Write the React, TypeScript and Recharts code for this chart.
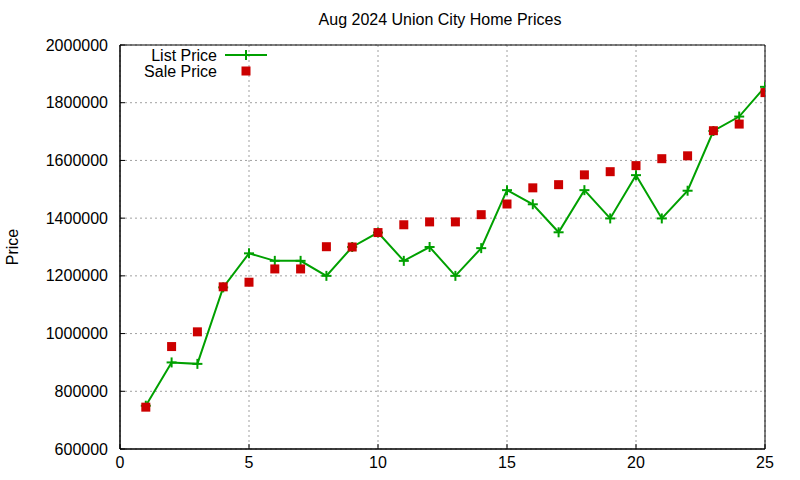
import React from 'react';
import { ComposedChart, Line, XAxis, YAxis, CartesianGrid, ReferenceArea } from 'recharts';

const months = [1, 2, 3, 4, 5, 6, 7, 8, 9, 10, 11, 12, 13, 14, 15, 16, 17, 18, 19, 20, 21, 22, 23, 24, 25];
const listPrice = [750000, 900000, 895000, 1160000, 1278000, 1252000, 1252000, 1200000, 1300000, 1350000, 1252000, 1300000, 1200000, 1296000, 1497000, 1448000, 1351000, 1497000, 1399000, 1549000, 1399000, 1495000, 1702000, 1752000, 1855000];
const salePrice = [745000, 955000, 1006000, 1162000, 1178000, 1224000, 1224000, 1301000, 1300000, 1350000, 1377000, 1387000, 1387000, 1412000, 1449000, 1505000, 1516000, 1550000, 1561000, 1582000, 1606000, 1616000, 1703000, 1726000, 1835000];
const xTicks = [0, 5, 10, 15, 20, 25];
const yTicks = [600000, 800000, 1000000, 1200000, 1400000, 1600000, 1800000, 2000000];

const data = months.map((m, i) => ({ m, list: listPrice[i], sale: salePrice[i] }));

const GREEN = '#00a000';
const RED = '#cc0000';
const FONT = '"Liberation Sans", Arial, sans-serif';
const TM = 10;
const TL = 5;

const PlusDot = (props: any) => {
  const { cx, cy } = props;
  if (cx == null || cy == null) return null;
  return (
    <g>
      <line x1={cx - 5} x2={cx + 5} y1={cy} y2={cy} stroke={GREEN} strokeWidth={2} />
      <line x1={cx} x2={cx} y1={cy - 5} y2={cy + 5} stroke={GREEN} strokeWidth={2} />
    </g>
  );
};

const SquareDot = (props: any) => {
  const { cx, cy } = props;
  if (cx == null || cy == null) return null;
  return <rect x={cx - 4.5} y={cy - 4.5} width={9} height={9} fill={RED} />;
};

const BottomTick = (props: any) => {
  const { x, y, payload } = props;
  const ay = y - TM;
  return (
    <g>
      <line x1={x} x2={x} y1={ay} y2={ay - TL} stroke="#000" strokeWidth={1} />
      <text x={x} y={ay + 19} textAnchor="middle" fontSize={16} fontFamily={FONT} fill="#000">{payload.value}</text>
    </g>
  );
};

const LeftTick = (props: any) => {
  const { x, y, payload } = props;
  const ax = x + TM;
  return (
    <g>
      <line x1={ax} x2={ax + TL} y1={y} y2={y} stroke="#000" strokeWidth={1} />
      <text x={ax - 12} y={y} dy="0.35em" textAnchor="end" fontSize={16} fontFamily={FONT} fill="#000">{payload.value}</text>
    </g>
  );
};

const TopTick = (props: any) => {
  const { x, y } = props;
  return <line x1={x} x2={x} y1={y} y2={y + TL} stroke="#000" strokeWidth={1} />;
};

const RightTick = (props: any) => {
  const { x, y } = props;
  return <line x1={x} x2={x - TL} y1={y} y2={y} stroke="#000" strokeWidth={1} />;
};

export default function App() {
  return (
    <div style={{ position: 'absolute', left: 0, top: 0, width: 800, height: 480, background: '#fff', fontFamily: FONT }}>
      <ComposedChart
        width={800}
        height={480}
        data={data}
        margin={{ top: 45, right: 35, bottom: 0, left: 0 }}
        style={{ fontFamily: FONT }}
      >
        <CartesianGrid xAxisId="b" yAxisId="l" stroke="#a0a0a0" strokeDasharray="2 3" />
        <XAxis
          xAxisId="b"
          type="number"
          dataKey="m"
          domain={[0, 25]}
          ticks={xTicks}
          height={31}
          tickSize={0}
          tickMargin={TM}
          tickLine={false}
          axisLine={{ stroke: '#000' }}
          tick={<BottomTick />}
          interval={0}
          allowDataOverflow
        />
        <XAxis
          xAxisId="t"
          orientation="top"
          type="number"
          dataKey="m"
          domain={[0, 25]}
          ticks={xTicks}
          height={0}
          tickSize={0}
          tickMargin={0}
          tickLine={false}
          axisLine={{ stroke: '#000' }}
          tick={<TopTick />}
          interval={0}
          allowDataOverflow
        />
        <YAxis
          yAxisId="l"
          type="number"
          domain={[600000, 2000000]}
          ticks={yTicks}
          width={120}
          tickSize={0}
          tickMargin={TM}
          tickLine={false}
          axisLine={{ stroke: '#000' }}
          tick={<LeftTick />}
          interval={0}
          allowDataOverflow
        />
        <YAxis
          yAxisId="r"
          orientation="right"
          type="number"
          domain={[600000, 2000000]}
          ticks={yTicks}
          width={0}
          tickSize={0}
          tickMargin={0}
          tickLine={false}
          axisLine={{ stroke: '#000' }}
          tick={<RightTick />}
          interval={0}
          allowDataOverflow
        />
        <ReferenceArea xAxisId="b" yAxisId="l" x1={0} x2={25} y1={600000} y2={2000000} fill="none" stroke="#000" strokeWidth={1} />
        <Line
          xAxisId="b"
          yAxisId="l"
          dataKey="list"
          stroke={GREEN}
          strokeWidth={2}
          dot={<PlusDot />}
          activeDot={false}
          isAnimationActive={false}
        />
        <Line
          xAxisId="b"
          yAxisId="l"
          dataKey="sale"
          stroke="none"
          strokeWidth={0}
          dot={<SquareDot />}
          activeDot={false}
          isAnimationActive={false}
        />
      </ComposedChart>
      <div style={{ position: 'absolute', left: 0, top: 11, width: 880, textAlign: 'center', fontSize: 16, lineHeight: '18px', color: '#000' }}>
        Aug 2024 Union City Home Prices
      </div>
      <svg width={800} height={480} style={{ position: 'absolute', left: 0, top: 0, pointerEvents: 'none' }}>
        <text x={217} y={61} textAnchor="end" fontSize={16} fontFamily={FONT} fill="#000">List Price</text>
        <line x1={225} x2={267} y1={55} y2={55} stroke={GREEN} strokeWidth={2} />
        <line x1={246} x2={246} y1={50} y2={60} stroke={GREEN} strokeWidth={2} />
        <text x={217} y={77} textAnchor="end" fontSize={16} fontFamily={FONT} fill="#000">Sale Price</text>
        <rect x={241.5} y={66.5} width={9} height={9} fill={RED} />
        <text x={0} y={0} transform="translate(18,247) rotate(-90)" textAnchor="middle" fontSize={16} fontFamily={FONT} fill="#000">Price</text>
      </svg>
    </div>
  );
}
